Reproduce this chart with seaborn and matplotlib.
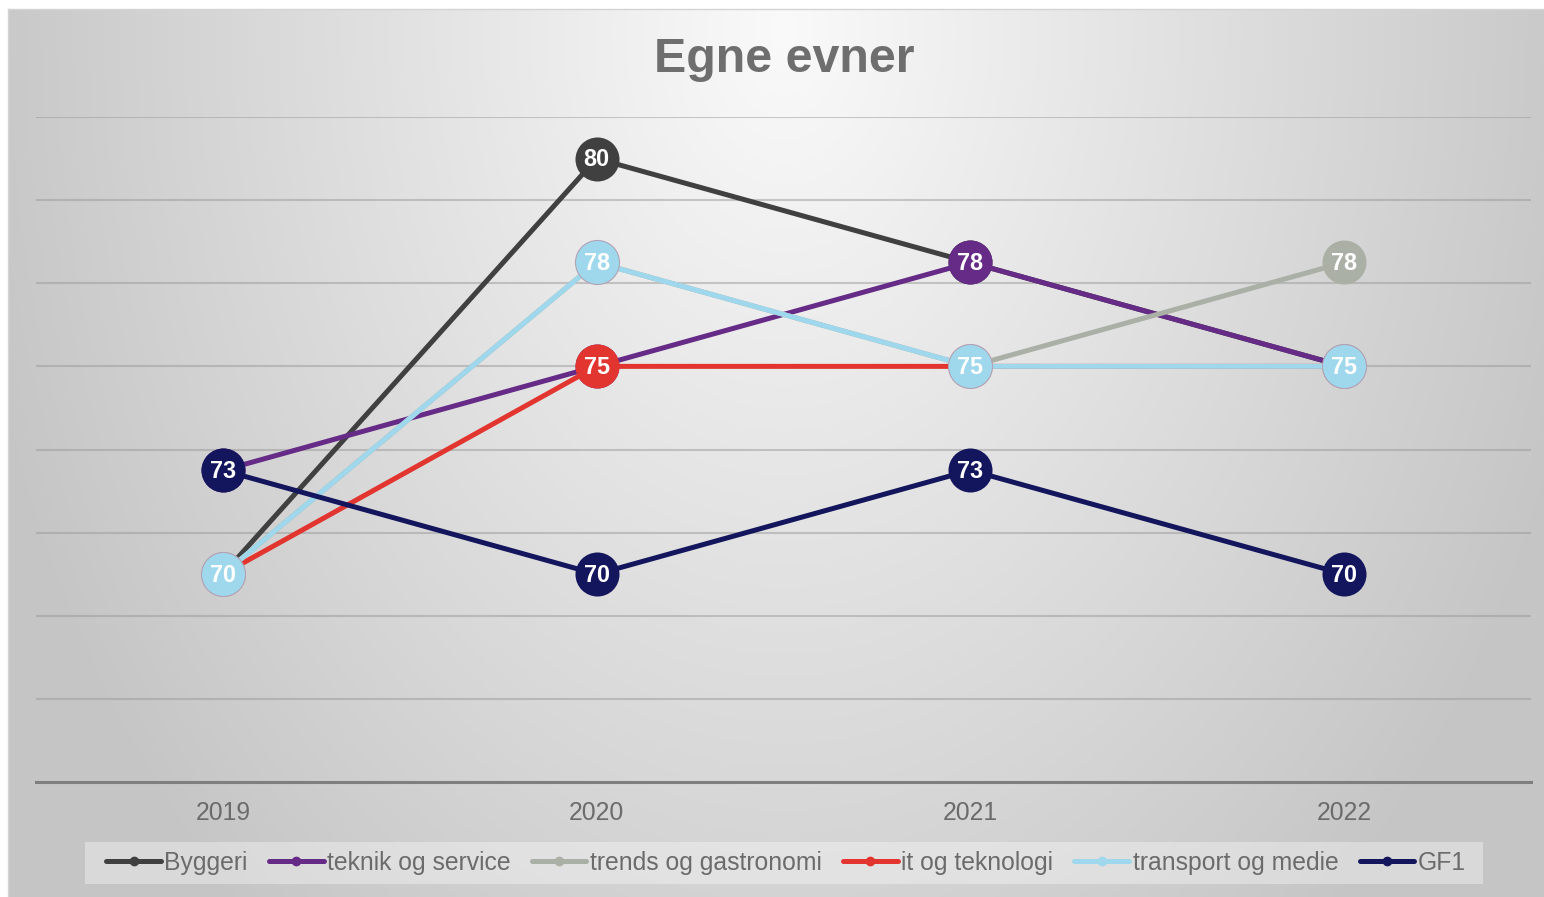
import math
import numpy as np
import pandas as pd
import matplotlib
matplotlib.use("Agg")
import matplotlib.pyplot as plt
import seaborn as sns
from matplotlib import font_manager
from matplotlib.lines import Line2D
from matplotlib.patches import Rectangle

# ---------------- data ----------------
years = [2019, 2020, 2021, 2022]
series = ["Byggeri", "teknik og service", "trends og gastronomi",
          "it og teknologi", "transport og medie", "GF1"]
byggeri = [70, 80, 77.5, 75]
teknik = [72.5, 75, 77.5, 75]
trends = [70, 77.5, 75, 77.5]
it_tek = [70, 75, 75, 75]
transport = [70, 77.5, 75, 75]
gf1 = [72.5, 70, 72.5, 70]
colors = ["#404040", "#652B86", "#ABB0A6", "#E2352F", "#9FD8EC", "#13165C"]
title = "Egne evner"

values = [byggeri, teknik, trends, it_tek, transport, gf1]
df = pd.DataFrame({
    "year": years * len(series),
    "value": [v for vals in values for v in vals],
    "series": [s for s in series for _ in years],
})

# ---------------- style ----------------
sns.set_theme(style="white")
plt.rcParams["font.family"] = ["Liberation Sans", "DejaVu Sans"]

W, H = 1544, 897
fig = plt.figure(figsize=(W / 100, H / 100), dpi=100)
fig.patch.set_facecolor("white")

# background gradient
bg = fig.add_axes([8 / W, 0, (W - 8) / W, (H - 9) / H], zorder=-10)
xs = np.linspace(8, W, 400)
ys = np.linspace(9, H, 240)
X, Y = np.meshgrid(xs, ys)
t = np.sqrt(((X - 784) / 850) ** 2 + ((Y - 30) / 1200) ** 2)
c = np.maximum(0.775, 0.98 - 0.21 * t)
img = np.dstack([c, c, c])
bg.imshow(img, extent=[0, 1, 0, 1], aspect="auto", origin="upper",
          interpolation="bilinear")
bg.set_xlim(0, 1)
bg.set_ylim(0, 1)
bg.set_xticks([])
bg.set_yticks([])
for s in ["right", "bottom"]:
    bg.spines[s].set_visible(False)
for s in ["top", "left"]:
    bg.spines[s].set_color("#D4D4D4")
    bg.spines[s].set_linewidth(1.0)

# main axes
ax = fig.add_axes([36 / W, 1 - 782 / H, (1531 - 36) / W, (782 - 117) / H])
ax.patch.set_alpha(0)

sns.lineplot(data=df, x="year", y="value", hue="series", hue_order=series,
             palette=colors, marker="o", markersize=31.7, linewidth=3.6,
             markeredgewidth=0, legend=False, ax=ax, sort=False,
             errorbar=None, clip_on=False)
ln = ax.lines[4]
ln.set_markeredgecolor("#B3A3B6")
ln.set_markeredgewidth(0.8)

# data labels on topmost marker
for i, yr in enumerate(years):
    seen = {}
    for j, vals in enumerate(values):
        seen[vals[i]] = j
    for v in seen:
        ax.text(yr, v - 0.03, str(math.floor(v + 0.5)), ha="center", va="center",
                color="white", fontsize=16.8, fontweight="bold", zorder=10)

ax.set_xlim(2018.5, 2022.5)
ax.set_ylim(65, 81)
ax.set_yticks(list(range(67, 82, 2)))
ax.set_yticklabels([])
ax.yaxis.grid(True, color="#9A9A9A", alpha=0.5, linewidth=1.5)
ax.set_axisbelow(True)
ax.set_xticks(years)
ax.set_xticklabels([str(y) for y in years])
ax.tick_params(axis="x", length=0, pad=14, labelsize=17.85, labelcolor="#6B6B6B")
ax.tick_params(axis="y", length=0)
ax.set_xlabel("")
ax.set_ylabel("")
for s in ["top", "left", "right"]:
    ax.spines[s].set_visible(False)
ax.spines["bottom"].set_color("#7F7F7F")
ax.spines["bottom"].set_linewidth(2.2)

# title
fig.text(784 / W, 1 - 60 / H, title, ha="center", va="center",
         fontsize=34.85, fontweight="bold", color="#6E6E6E")

# legend
fig.patches.append(Rectangle((85 / W, 1 - 884 / H), 1398 / W, 42 / H,
                             transform=fig.transFigure, facecolor="white",
                             alpha=0.35, edgecolor="none", zorder=1))
handles = [Line2D([0], [0], color=cc, lw=3.6, marker="o", markersize=7, mew=0)
           for cc in colors]
fig.legend(handles, series, loc="center", bbox_to_anchor=(786 / W, 1 - 863 / H),
           ncol=6, frameon=False, fontsize=17.85, handlelength=2.2,
           handletextpad=0.14, columnspacing=0.86, labelcolor="#6B6B6B")

fig.savefig("out.png", dpi=100)
